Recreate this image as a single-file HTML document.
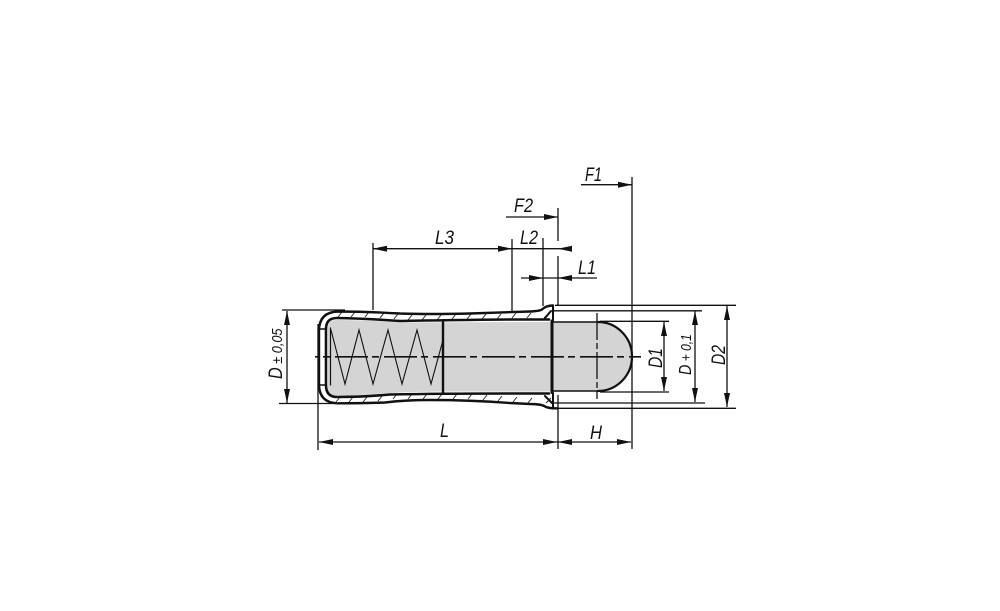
<!DOCTYPE html>
<html><head><meta charset="utf-8"><style>
html,body{margin:0;padding:0;background:#fff;width:1000px;height:611px;overflow:hidden}
svg{display:block}
text{font-family:"Liberation Sans",sans-serif;font-style:italic;fill:#111}
</style></head><body>
<svg width="1000" height="611" viewBox="0 0 1000 611" xmlns="http://www.w3.org/2000/svg">
<defs>
<path id="a" d="M0 0L-14 -3V3Z" fill="#111"/>
</defs>
<!-- grey fills -->
<path d="M328 328Q328 320 337 320Q365 320 400 322.500L552 322V391.500H443Q400 392 385 393.500Q360 395.500 337 395.500Q328 395.500 328 387Z" fill="#d4d4d4"/>
<path d="M553 322H598A34 34.500 0 0 1 598 391H553Z" fill="#d4d4d4"/>
<!-- hatch -->
<g stroke="#222" stroke-width="0.9" fill="none">
<path d="M338 317l4-5M351 317l4-5M365 317l4-5M380 318l4-5M394 319l4-5M408 320l4-5M422 320l4-5M437 320l4-5M452 319l4-5M467 319l4-5M482 319l4-5M497 319l4-5M512 318l4-5M527 318l4-5"/>
<path d="M336 402l4-5M349 402l4-5M363 402l4-5M378 401l4-5M393 399l4-5M408 399l4-5M423 399l4-5M438 399l4-5M453 399l4-5M468 399l4-5M483 400l4-5M498 401l4-5M513 402l4-5M528 403l4-5"/>
<path d="M544 318l5-5M546 403l5-5"/>
</g>
<!-- body walls -->
<g fill="none" stroke="#111" stroke-linecap="round" stroke-linejoin="round">
<path stroke-width="2.400" d="M553 305.500Q546 305.500 542 309.500Q540 311 530 311.500L470 313.500Q430 314.500 400 313.500Q365 311.500 338 311.500Q319 312 319 331V384Q319 403 338 403.300Q365 403.300 385 402.500Q405 400 430 400Q470 400 510 403L530 404Q541 404 545 406.500Q549 408.500 557 408.300"/>
<path stroke-width="2.600" d="M549 319.500H510Q450 320 400 321Q365 318.500 337 318Q326 318 326 329V385Q326 397 337 397Q365 397 390 394.500Q440 393.500 510 393.500H549"/>
<path stroke-width="1.600" d="M320 329H326M320 385H326"/>
<path stroke-width="1.200" d="M330.500 328V385"/>
<path stroke-width="2" d="M553 306V321M553 393V408M545 318L551 311M545 396L552 403"/>
<path stroke-width="3" d="M552 321V392.500"/>
<path stroke-width="2.400" d="M443 321V393"/>
<path stroke-width="1.500" d="M553 322H598M553 391H598"/>
<path stroke-width="2.200" d="M598 322A34 34.500 0 0 1 598 391"/>
<path stroke-width="1.100" stroke-linejoin="miter" d="M331 330L345 384L359 330L373 384L388 330L402 384L417 330L431 384L443 340"/>
</g>
<!-- centre lines -->
<g stroke="#111" fill="none">
<path stroke-width="1.700" stroke-dasharray="33 4 7 5" stroke-dashoffset="29" d="M315 356.800H641"/>
<path stroke-width="1.300" stroke-dasharray="27 3 6 3" d="M597 313V399"/>
</g>
<!-- extension + dim lines -->
<g stroke="#111" stroke-width="1.300" fill="none">
<path d="M282 310H345M279 403.500H345"/>
<path d="M555 305.300H736M552 310.800H702M600 321.300H669M600 392H669M552 403H705M555 408.300H736"/>
<path d="M318 324V450M558 395V449M632 177V449"/>
<path d="M373 243V310M512 239V311M543 238V306M558 208V241M558 256V306"/>
<path d="M287 311V403M664 322V391M695 311V402M727 306V407"/>
<path d="M319 442H631"/>
<path d="M581 184.700H632M506 217H558M373 248.700H571M521 278H597"/>
</g>
<!-- arrows -->
<use href="#a" transform="translate(632 184.700)"/>
<use href="#a" transform="translate(558 217)"/>
<use href="#a" transform="translate(512 248.700)"/>
<use href="#a" transform="translate(373 248.700) rotate(180)"/>
<use href="#a" transform="translate(558 248.700) rotate(180)"/>
<use href="#a" transform="translate(543 278)"/>
<use href="#a" transform="translate(558 278) rotate(180)"/>
<use href="#a" transform="translate(319 442) rotate(180)"/>
<use href="#a" transform="translate(557 442)"/>
<use href="#a" transform="translate(558 442) rotate(180)"/>
<use href="#a" transform="translate(631 442)"/>
<use href="#a" transform="translate(287 311) rotate(-90)"/>
<use href="#a" transform="translate(287 403) rotate(90)"/>
<use href="#a" transform="translate(664 322) rotate(-90)"/>
<use href="#a" transform="translate(664 391) rotate(90)"/>
<use href="#a" transform="translate(695 311) rotate(-90)"/>
<use href="#a" transform="translate(695 402) rotate(90)"/>
<use href="#a" transform="translate(727 306) rotate(-90)"/>
<use href="#a" transform="translate(727 407) rotate(90)"/>
<!-- labels -->
<g font-size="19.500">
<text x="585" y="181" textLength="17" lengthAdjust="spacingAndGlyphs">F1</text>
<text x="514" y="212" textLength="19" lengthAdjust="spacingAndGlyphs">F2</text>
<text x="520" y="244" textLength="18" lengthAdjust="spacingAndGlyphs">L2</text>
<text x="435" y="244" textLength="19" lengthAdjust="spacingAndGlyphs">L3</text>
<text x="578" y="274" textLength="18" lengthAdjust="spacingAndGlyphs">L1</text>
<text x="440" y="437" textLength="9" lengthAdjust="spacingAndGlyphs">L</text>
<text x="590" y="439" textLength="12" lengthAdjust="spacingAndGlyphs">H</text>
<text transform="translate(662 368) rotate(-90)" textLength="20" lengthAdjust="spacingAndGlyphs">D1</text>
<text transform="translate(725 365) rotate(-90)" textLength="20" lengthAdjust="spacingAndGlyphs">D2</text>
</g>
<text transform="translate(691 375) rotate(-90) scale(.8 1)" font-size="18">D<tspan font-size="15"> + 0,1</tspan></text>
<text transform="translate(282 379) rotate(-90) scale(.85 1)" font-size="19">D<tspan font-size="15"> ± 0,05</tspan></text>
</svg>
</body></html>
